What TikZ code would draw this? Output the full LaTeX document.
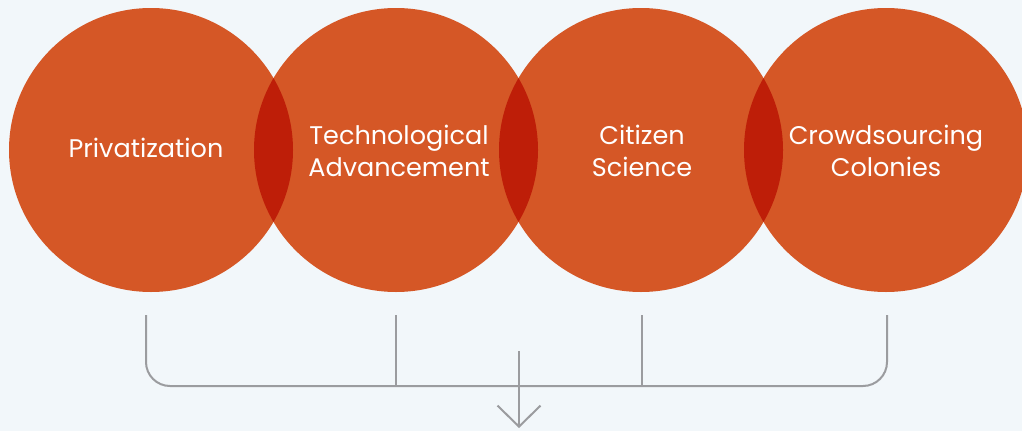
\documentclass[tikz,border=0pt]{standalone}
\usepackage{fontspec}
\setmainfont{Poppins}
\usetikzlibrary{arrows.meta}
\definecolor{bg}{HTML}{F2F7FA}
\definecolor{orangec}{HTML}{D55726}
\definecolor{lensc}{HTML}{BE1E08}
\definecolor{greyl}{HTML}{9B9C9F}
\tikzset{
  bubble/.style={circle, fill=orangec, minimum size=284pt, inner sep=0pt},
  label text/.style={text=white, inner sep=0pt, font=\fontsize{25.5}{32}\selectfont, align=center},
  bracket/.style={draw=greyl, line width=2pt},
}
\begin{document}
\begin{tikzpicture}[x=1pt,y=-1pt]
\fill[bg] (0,0) rectangle (1022,431);
\useasboundingbox (0,0) rectangle (1022,431);
\node[bubble] (c1) at (151,150) {};
\node[bubble] (c2) at (396,150) {};
\node[bubble] (c3) at (641,150) {};
\node[bubble] (c4) at (886,150) {};
\foreach \a/\b in {151/396,396/641,641/886}{
  \begin{scope}
    \clip (\a,150) circle (142);
    \fill[lensc] (\b,150) circle (142);
  \end{scope}
}
\node[label text] (t1) at (146,148) {Privatization};
\node[label text] (t2) at (399,151) {Technological\\Advancement};
\node[label text] (t3) at (642,151) {Citizen\\Science};
\node[label text] (t4) at (886,151) {Crowdsourcing\\Colonies};
\coordinate (b1) at (146,315);
\coordinate (b2) at (396,315);
\coordinate (b3) at (642,315);
\coordinate (b4) at (887,315);
\coordinate (h4) at (887,386);
\coordinate (a1) at (519,351);
\coordinate (a2) at (519,428);
\draw[bracket, rounded corners=24pt] (b1) |- (h4) -- (b4);
\draw[bracket] (b2) -- (b2 |- h4);
\draw[bracket] (b3) -- (b3 |- h4);
\draw[bracket, -{Straight Barb[length=21pt,width=43pt,line width=2pt]}] (a1) -- (a2);
\end{tikzpicture}
\end{document}
